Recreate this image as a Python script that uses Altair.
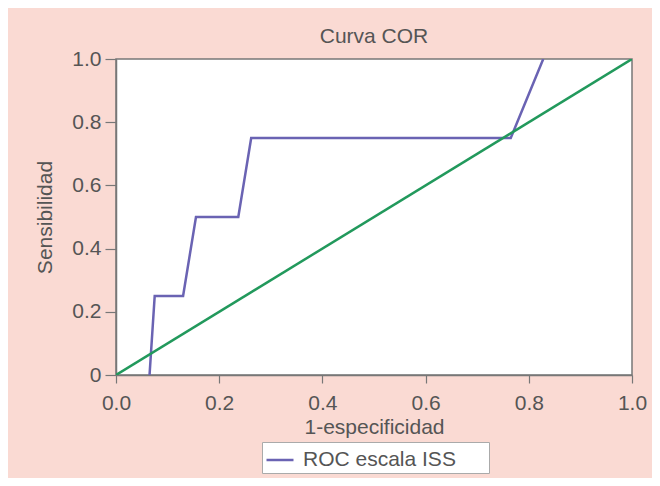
import altair as alt
import pandas as pd

# ROC curve points (1 - specificity, sensitivity)
fpr = [0.065, 0.075, 0.13, 0.155, 0.237, 0.262, 0.765, 0.828]
tpr = [0.0, 0.25, 0.25, 0.5, 0.5, 0.75, 0.75, 1.0]
series_name = "ROC escala ISS"

# reference diagonal
diag_x = [0.0, 1.0]
diag_y = [0.0, 1.0]

x_ticks = [0.0, 0.2, 0.4, 0.6, 0.8, 1.0]
y_ticks = [0.0, 0.2, 0.4, 0.6, 0.8, 1.0]

roc_df = pd.DataFrame({"x": fpr, "y": tpr, "i": list(range(len(fpr))),
                       "serie": [series_name] * len(fpr)})
diag_df = pd.DataFrame({"x": diag_x, "y": diag_y, "i": [0, 1]})

FONT = "Liberation Sans"
TXT = "#555555"
FS = 21

x_enc = alt.X("x:Q", scale=alt.Scale(domain=[0, 1], nice=False, zero=False),
              axis=alt.Axis(values=x_ticks, format=".1f", title="1-especificidad",
                            grid=False, tickSize=8, labelPadding=9, titlePadding=3,
                            labelFlush=False))
y_enc = alt.Y("y:Q", scale=alt.Scale(domain=[0, 1], nice=False, zero=False),
              axis=alt.Axis(values=y_ticks, title="Sensibilidad",
                            labelExpr="datum.value == 0 ? '0' : format(datum.value, '.1f')",
                            grid=False, tickSize=11, labelPadding=4, titlePadding=16,
                            labelFlush=False))

diag = alt.Chart(diag_df).mark_line(color="#22995c", strokeWidth=2.5, clip=True).encode(
    x=x_enc, y=y_enc, order="i:Q")

roc = alt.Chart(roc_df).mark_line(strokeWidth=2.5, clip=True).encode(
    x=x_enc, y=y_enc, order="i:Q",
    color=alt.Color("serie:N", title=None,
                    scale=alt.Scale(domain=[series_name], range=["#6a63b3"]),
                    legend=alt.Legend(orient="none", legendX=146, legendY=383,
                                      symbolType="stroke",
                                      symbolSize=729, symbolStrokeWidth=2.5,
                                      labelFontSize=FS, labelFont=FONT, labelColor=TXT,
                                      labelExpr="datum.label + '\u2800\u2800'",
                                      labelLimit=400,
                                      fillColor="white", strokeColor="#aaaaaa",
                                      padding=3, labelOffset=8)))

chart = alt.layer(roc, diag).properties(
    width=516, height=316,
    title=alt.TitleParams("Curva COR", fontSize=FS, font=FONT, fontWeight="normal",
                          color=TXT, anchor="middle", offset=1),
    autosize=alt.AutoSizeParams(type="none"),
    padding={"left": 108, "top": 51, "right": 20, "bottom": 103},
    background="#fadad3",
).configure_view(
    fill="white", stroke="#777777", strokeWidth=1.5
).configure_axis(
    labelFont=FONT, labelFontSize=FS, labelColor=TXT,
    titleFont=FONT, titleFontSize=FS, titleColor=TXT, titleFontWeight="normal",
    domainColor="#777777", domainWidth=1.5, tickColor="#777777", tickWidth=1.2
)

chart.save("out.html", embed_options={"renderer": "svg", "actions": False})
